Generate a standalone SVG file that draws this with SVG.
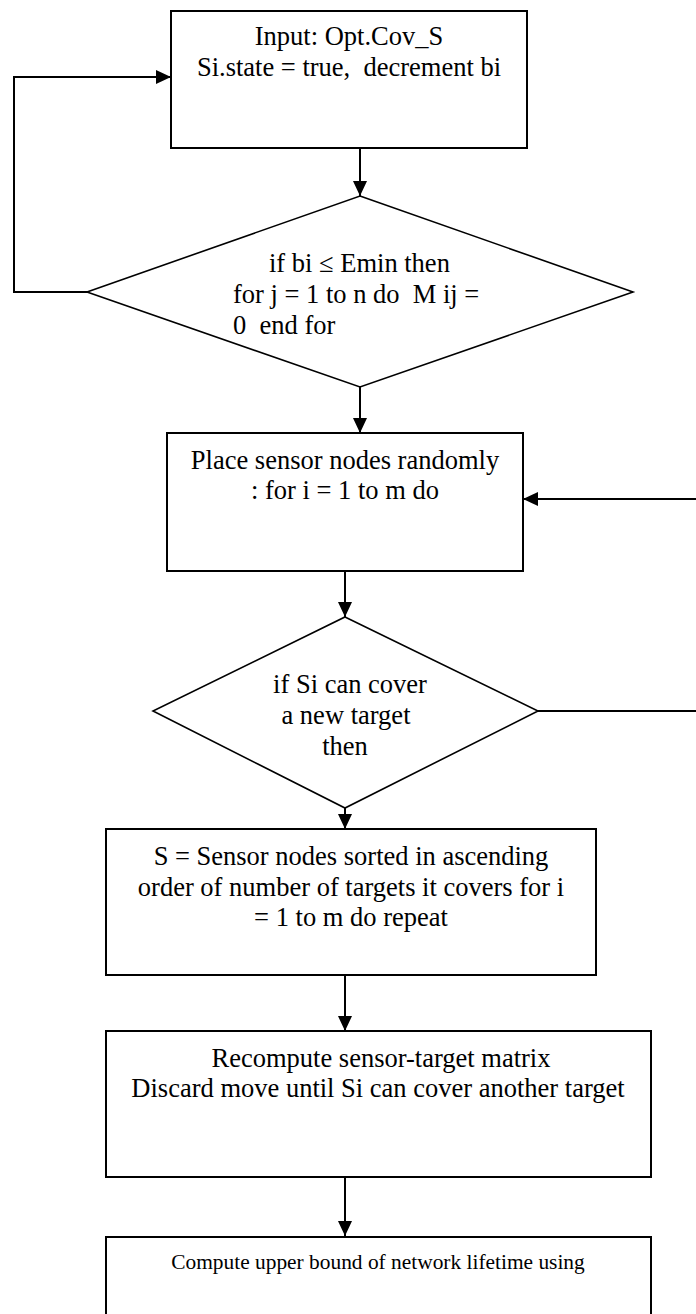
<svg xmlns="http://www.w3.org/2000/svg" width="696" height="1314" viewBox="0 0 696 1314">
<style>
.box{fill:#fff;stroke:#000;stroke-width:2}
.dia{fill:#fff;stroke:#000;stroke-width:1.6}
.con{fill:none;stroke:#000;stroke-width:2}
text{font-family:"Liberation Serif","Times New Roman",serif;font-size:26.5px;fill:#000}
.c{text-anchor:middle}
.sm{font-size:21.4px}
</style>
<defs>
<marker id="ah" markerUnits="userSpaceOnUse" markerWidth="15" markerHeight="14" refX="15" refY="7" orient="auto">
<path d="M0,0 L15,7 L0,14 z" fill="#000"/>
</marker>
</defs>
<rect width="696" height="1314" fill="#fff"/>
<g id="connectors">
<line class="con" x1="360" y1="148" x2="360" y2="196" marker-end="url(#ah)"/>
<polyline class="con" points="87,292 14,292 14,77 171,77" marker-end="url(#ah)"/>
<line class="con" x1="360" y1="387" x2="360" y2="433" marker-end="url(#ah)"/>
<line class="con" x1="696" y1="499" x2="523" y2="499" marker-end="url(#ah)"/>
<line class="con" x1="345" y1="571" x2="345" y2="617" marker-end="url(#ah)"/>
<line class="con" x1="538" y1="711" x2="696" y2="711"/>
<line class="con" x1="345" y1="808" x2="345" y2="829" marker-end="url(#ah)"/>
<line class="con" x1="345" y1="975" x2="345" y2="1031" marker-end="url(#ah)"/>
<line class="con" x1="345" y1="1177" x2="345" y2="1236" marker-end="url(#ah)"/>
</g>
<g id="n1">
<rect class="box" x="171" y="11" width="356" height="137"/>
<text class="c" x="349" y="45">Input: Opt.Cov_S</text>
<text class="c" x="349" y="76" xml:space="preserve">Si.state = true,  decrement bi</text>
</g>
<g id="n2">
<polygon class="dia" points="360,196 633,292 360,387 87,292"/>
<text x="269" y="272">if bi ≤ Emin then</text>
<text x="233" y="303" xml:space="preserve">for j = 1 to n do  M ij =</text>
<text x="233" y="334" xml:space="preserve">0  end for</text>
</g>
<g id="n3">
<rect class="box" x="167" y="433" width="356" height="138"/>
<text class="c" x="345" y="469">Place sensor nodes randomly</text>
<text class="c" x="345" y="499">: for i = 1 to m do</text>
</g>
<g id="n4">
<polygon class="dia" points="345,617 538,711 345,808 153,711"/>
<text class="c" x="350" y="693">if Si can cover</text>
<text class="c" x="346" y="724">a new target</text>
<text class="c" x="345" y="755">then</text>
</g>
<g id="n5">
<rect class="box" x="106" y="829" width="490" height="146"/>
<text class="c" x="351" y="865">S = Sensor nodes sorted in ascending</text>
<text class="c" x="351" y="896">order of number of targets it covers for i</text>
<text class="c" x="351" y="926">= 1 to m do repeat</text>
</g>
<g id="n6">
<rect class="box" x="106" y="1031" width="545" height="146"/>
<text class="c" x="381" y="1067">Recompute sensor-target matrix</text>
<text class="c" x="378" y="1097">Discard move until Si can cover another target</text>
</g>
<g id="n7">
<rect class="box" x="106" y="1237" width="545" height="100"/>
<text class="c sm" x="378" y="1269">Compute upper bound of network lifetime using</text>
</g>
</svg>
